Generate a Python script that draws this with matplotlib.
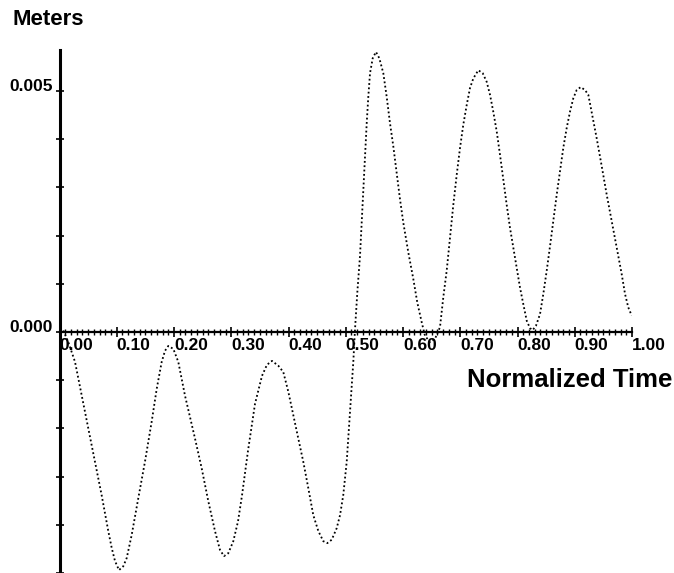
import matplotlib
matplotlib.use('Agg')
import matplotlib.pyplot as plt
from matplotlib.ticker import MultipleLocator, FixedLocator, FuncFormatter
import numpy as np

# Normalized time (x) and displacement in millimetres (y)
time = [0.0066, 0.0154, 0.0271, 0.0388, 0.0503, 0.0620, 0.0737, 0.0852, 0.0912, 0.0969,
        0.1039, 0.1114, 0.1174, 0.1261, 0.1376, 0.1493, 0.1610, 0.1698, 0.1785, 0.1843,
        0.1900, 0.1988, 0.2075, 0.2192, 0.2367, 0.2484, 0.2599, 0.2716, 0.2803, 0.2873,
        0.2948, 0.3036, 0.3118, 0.3188, 0.3293, 0.3415, 0.3537, 0.3624, 0.3712, 0.3822,
        0.3909, 0.3997, 0.4084, 0.4171, 0.4258, 0.4346, 0.4433, 0.4521, 0.4608, 0.4678,
        0.4755, 0.4842, 0.4900, 0.4957, 0.5017, 0.5074, 0.5132, 0.5162, 0.5202, 0.5249,
        0.5278, 0.5307, 0.5336, 0.5366, 0.5394, 0.5424, 0.5471, 0.5528, 0.5586, 0.5656,
        0.5715, 0.5773, 0.5831, 0.5890, 0.5948, 0.6005, 0.6093, 0.6180, 0.6250, 0.6327,
        0.6384, 0.6472, 0.6559, 0.6611, 0.6646, 0.6704, 0.6763, 0.6821, 0.6879, 0.6938,
        0.6996, 0.7053, 0.7113, 0.7170, 0.7228, 0.7315, 0.7392, 0.7462, 0.7520, 0.7577,
        0.7637, 0.7694, 0.7752, 0.7811, 0.7869, 0.7927, 0.7986, 0.8044, 0.8101, 0.8162,
        0.8218, 0.8265, 0.8323, 0.8393, 0.8451, 0.8510, 0.8568, 0.8625, 0.8685, 0.8742,
        0.8800, 0.8859, 0.8917, 0.8975, 0.9034, 0.9104, 0.9179, 0.9237, 0.9306, 0.9383,
        0.9471, 0.9558, 0.9646, 0.9733, 0.9820, 0.9878, 0.9935, 0.9995]
displacement_mm = [0.03, -0.21, -0.62, -1.32, -2.00, -2.69, -3.39, -4.13, -4.48, -4.75,
                   -4.94, -4.86, -4.69, -4.21, -3.45, -2.69, -1.86, -1.18, -0.62, -0.39,
                   -0.29, -0.35, -0.62, -1.32, -2.21, -2.83, -3.51, -4.13, -4.52, -4.65,
                   -4.59, -4.34, -3.93, -3.39, -2.46, -1.49, -0.91, -0.68, -0.60, -0.70,
                   -0.83, -1.24, -1.73, -2.21, -2.69, -3.24, -3.80, -4.13, -4.34, -4.38,
                   -4.31, -4.07, -3.80, -3.38, -2.69, -1.65, -0.62, 0.06, 0.82, 1.58,
                   2.27, 2.95, 3.64, 4.33, 4.88, 5.37, 5.68, 5.81, 5.68, 5.37,
                   4.88, 4.33, 3.85, 3.30, 2.75, 2.27, 1.65, 1.10, 0.61, 0.20,
                   -0.08, -0.21, -0.14, 0.00, 0.10, 0.72, 1.27, 1.96, 2.64, 3.26,
                   3.82, 4.30, 4.71, 5.06, 5.26, 5.43, 5.37, 5.19, 4.92, 4.57,
                   4.16, 3.68, 3.16, 2.64, 2.16, 1.75, 1.34, 0.92, 0.58, 0.23,
                   0.08, 0.04, 0.13, 0.37, 0.79, 1.27, 1.78, 2.30, 2.85, 3.33,
                   3.82, 4.23, 4.57, 4.85, 5.02, 5.08, 5.02, 4.92, 4.50, 4.02,
                   3.44, 2.85, 2.30, 1.75, 1.20, 0.79, 0.51, 0.34]

x_label = "Normalized Time"
y_label = "Meters"

meters = np.array(displacement_mm) * 1e-3

plt.rcParams['font.family'] = ['Liberation Sans', 'DejaVu Sans']

fig = plt.figure(figsize=(6.74, 5.73), dpi=100)
ax = fig.add_axes([59.5 / 674, 0.0, 572.5 / 674, 523 / 573])

ax.plot(time, meters, color='black', linestyle=(0, (1, 1.4)), lw=1.3)

ax.set_xlim(0, 1.0)
ax.set_ylim(-0.005, 0.00585)

ax.spines['top'].set_visible(False)
ax.spines['right'].set_visible(False)
ax.spines['bottom'].set_position(('data', 0))
ax.spines['left'].set_linewidth(2.2)
ax.spines['bottom'].set_linewidth(1.6)

ax.xaxis.set_major_locator(MultipleLocator(0.1))
ax.xaxis.set_minor_locator(MultipleLocator(0.01))
ax.yaxis.set_major_locator(FixedLocator([0.0, 0.005]))
ax.yaxis.set_minor_locator(MultipleLocator(0.001))
ax.xaxis.set_major_formatter(FuncFormatter(lambda v, p: f'{v:.2f}'))
ax.yaxis.set_major_formatter(FuncFormatter(lambda v, p: f'{v:.3f}'))

ax.tick_params(axis='x', which='major', direction='inout', length=7.2, width=1.2,
               labelsize=12.5, pad=0.5)
ax.tick_params(axis='x', which='minor', direction='inout', length=4.3, width=1.0)
ax.tick_params(axis='y', which='both', direction='inout', length=5.8, width=1.2,
               labelsize=12.5, pad=2.0)

for lbl in ax.get_xticklabels():
    lbl.set_ha('left')
    lbl.set_fontweight('bold')
for lbl in ax.get_yticklabels():
    lbl.set_va('baseline')
    lbl.set_fontweight('bold')

fig.text(12 / 674, 1 - 25 / 573, y_label, ha='left', va='baseline',
         fontsize=16, fontweight='bold')
fig.text(672 / 674, 1 - 387 / 573, x_label, ha='right', va='baseline',
         fontsize=18.5, fontweight='bold')

fig.savefig('out.png', dpi=100)
